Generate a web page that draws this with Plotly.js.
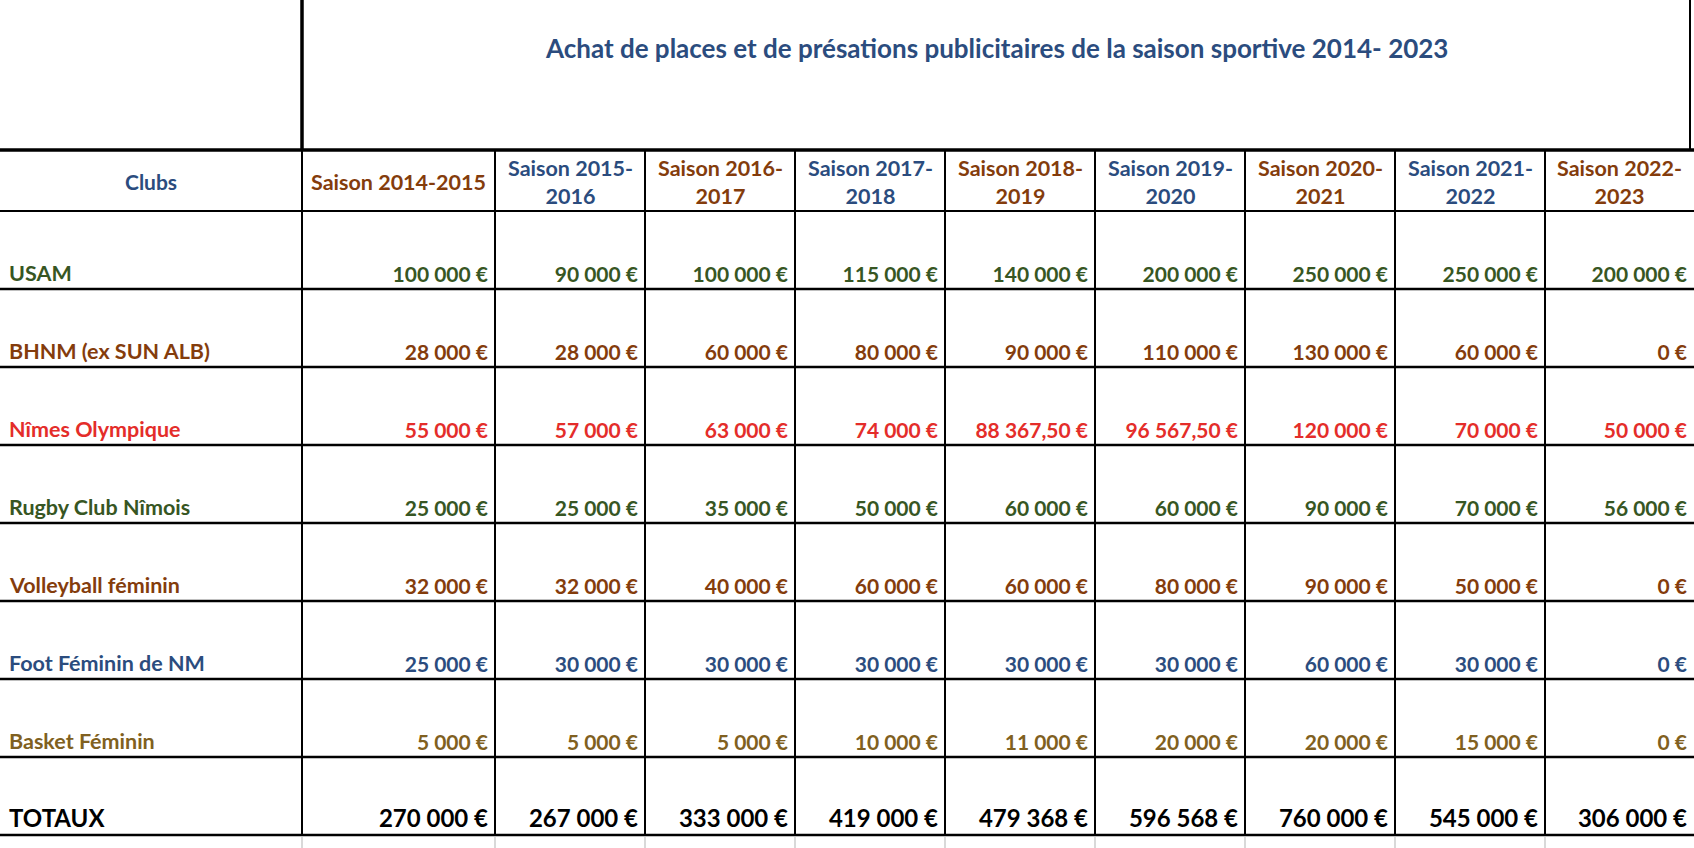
<!DOCTYPE html>
<html>
<head>
<meta charset="utf-8">
<script src="https://cdn.plot.ly/plotly-3.0.1.min.js"></script>
<style>
  html, body { margin: 0; padding: 0; background: #ffffff; }
  #chart { width: 1694px; height: 848px; }
</style>
</head>
<body>
<div id="chart"></div>
<script>
// --- data ---
const tableTitle = "Achat de places et de présations publicitaires de la saison sportive 2014- 2023";
const firstHeader = "Clubs";
const seasons = [
  "Saison 2014-2015", "Saison 2015-2016", "Saison 2016-2017",
  "Saison 2017-2018", "Saison 2018-2019", "Saison 2019-2020",
  "Saison 2020-2021", "Saison 2021-2022", "Saison 2022-2023"
];
const clubs = [
  "USAM", "BHNM (ex SUN ALB)", "Nîmes Olympique", "Rugby Club Nîmois",
  "Volleyball féminin", "Foot Féminin de NM", "Basket Féminin"
];
const usam = [100000, 90000, 100000, 115000, 140000, 200000, 250000, 250000, 200000];
const bhnm = [28000, 28000, 60000, 80000, 90000, 110000, 130000, 60000, 0];
const nimesOlympique = [55000, 57000, 63000, 74000, 88367.5, 96567.5, 120000, 70000, 50000];
const rugbyClub = [25000, 25000, 35000, 50000, 60000, 60000, 90000, 70000, 56000];
const volleyFeminin = [32000, 32000, 40000, 60000, 60000, 80000, 90000, 50000, 0];
const footFeminin = [25000, 30000, 30000, 30000, 30000, 30000, 60000, 30000, 0];
const basketFeminin = [5000, 5000, 5000, 10000, 11000, 20000, 20000, 15000, 0];
const totalLabel = "TOTAUX";
const totals = [270000, 267000, 333000, 419000, 479368, 596568, 760000, 545000, 306000];

// --- layout / style ---
const W = 1694, H = 848;
const colEdges = [0, 302, 495, 645, 795, 945, 1095, 1245, 1395, 1545, 1694];
const titleBottom = 150, headerBottom = 211, rowH = 78;
const FONT = "Lato, 'Open Sans', sans-serif";
const BLUE = "#2b4c7e", BROWN = "#843c0c", GREEN = "#375623",
      RED = "#e42d2a", OLIVE = "#806020", BLACK = "#000000";
const rowColors = [GREEN, BROWN, RED, GREEN, BROWN, BLUE, OLIVE, BLACK];

const rows = [usam, bhnm, nimesOlympique, rugbyClub, volleyFeminin, footFeminin, basketFeminin, totals];
const rowNames = clubs.concat([totalLabel]);

function euro(v) {
  const dec = Number.isInteger(v) ? 0 : 2;
  const parts = v.toFixed(dec).split(".");
  const grouped = parts[0].replace(/\B(?=(\d{3})+(?!\d))/g, " ");
  return grouped + (parts[1] ? "," + parts[1] : "") + " €";
}

const rowBottom = (i) => headerBottom + rowH * (i + 1);
const colRight = colEdges.slice(2);

const traces = rows.map((vals, i) => {
  const isTotal = i === rows.length - 1;
  return {
    type: "scatter",
    mode: "text",
    x: colRight.map((e) => e - 7),
    y: vals.map(() => rowBottom(i) - 2),
    text: vals.map(euro),
    textposition: "top left",
    textfont: { family: FONT, size: isTotal ? 24 : 21, color: rowColors[i], weight: 700 },
    hovertext: vals.map((v, j) => rowNames[i] + " – " + seasons[j] + " : " + euro(v)),
    hoverinfo: "text",
    cliponaxis: false,
    showlegend: false
  };
});

const annotations = [];
annotations.push({
  x: (colEdges[1] + 1690) / 2, y: 48, xref: "x", yref: "y",
  text: tableTitle, showarrow: false,
  font: { family: FONT, size: 26, color: BLUE, weight: 700 }
});
annotations.push({
  x: colEdges[1] / 2, y: (titleBottom + headerBottom) / 2 + 1, xref: "x", yref: "y",
  text: firstHeader, showarrow: false,
  font: { family: FONT, size: 21, color: BLUE, weight: 700 }
});
seasons.forEach((s, j) => {
  const w = colEdges[j + 2] - colEdges[j + 1];
  annotations.push({
    x: (colEdges[j + 1] + colEdges[j + 2]) / 2, y: (titleBottom + headerBottom) / 2 + 1,
    xref: "x", yref: "y",
    text: w < 180 ? s.replace(/-/, "-<br>") : s,
    showarrow: false,
    font: { family: FONT, size: 21.5, color: j % 2 === 0 ? BROWN : BLUE, weight: 700 }
  });
});
rowNames.forEach((name, i) => {
  const isTotal = i === rowNames.length - 1;
  annotations.push({
    x: 7, y: rowBottom(i) - 1, xref: "x", yref: "y",
    xanchor: "left", yanchor: "bottom",
    text: name, showarrow: false,
    font: { family: FONT, size: isTotal ? 24 : 21.5, color: rowColors[i], weight: 700 }
  });
});

const line = (x0, y0, x1, y1, width, color) => ({
  type: "line", xref: "x", yref: "y", x0, y0, x1, y1,
  line: { color: color || BLACK, width }
});

const shapes = [];
// title box
shapes.push(line(colEdges[1], 0, colEdges[1], titleBottom, 3.5));
shapes.push(line(1690, 0, 1690, titleBottom, 2));
shapes.push(line(0, titleBottom, W, titleBottom, 3.5));
// row lines
shapes.push(line(0, headerBottom, W, headerBottom, 2));
rows.forEach((_, i) => shapes.push(line(0, rowBottom(i), W, rowBottom(i), 2.5)));
// column lines
const tableBottom = rowBottom(rows.length - 1);
colEdges.slice(1, -1).forEach((x) => {
  shapes.push(line(x, titleBottom, x, tableBottom, 2));
  shapes.push(line(x, tableBottom + 2, x, H, 2, "#d9d9d9"));
});

const layout = {
  width: W, height: H,
  margin: { l: 0, r: 0, t: 0, b: 0 },
  paper_bgcolor: "#ffffff", plot_bgcolor: "#ffffff",
  xaxis: { range: [0, W], visible: false, fixedrange: true },
  yaxis: { range: [H, 0], visible: false, fixedrange: true },
  shapes, annotations,
  showlegend: false,
  font: { family: FONT }
};

Plotly.newPlot("chart", traces, layout, { displayModeBar: false, responsive: false });
</script>
</body>
</html>
